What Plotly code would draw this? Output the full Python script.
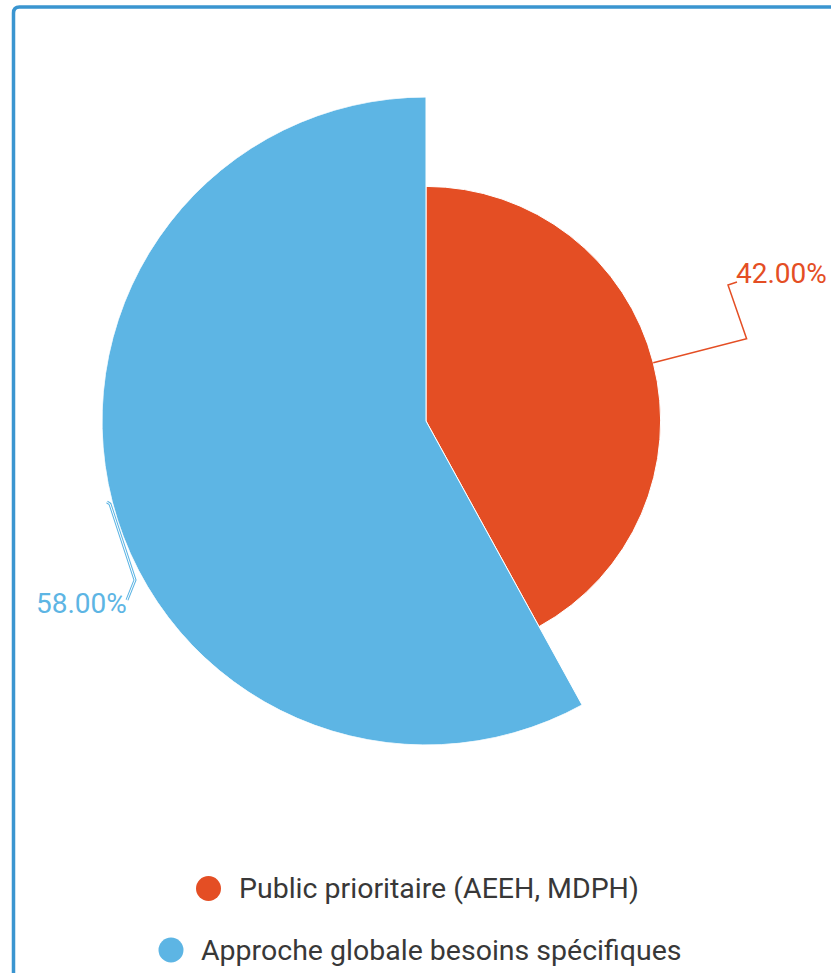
import math
import plotly.graph_objects as go

# ---- data ----
categories = ["Public prioritaire (AEEH, MDPH)", "Approche globale besoins spécifiques"]
values = [42.0, 58.0]
labels = ["42.00%", "58.00%"]
colors = ["#E44E24", "#5DB5E4"]

W, H = 831, 973
CX, CY, R = 426, 421, 324  # pixel centre / outer radius of largest slice
vmax = max(values)
total = sum(values)

def px(x):
    return x / W

def py(y):
    return 1 - y / H

# angular layout (clockwise from top)
widths = [v / total * 360 for v in values]
mids = []
acc = 0
for w in widths:
    mids.append(acc + w / 2)
    acc += w

fig = go.Figure()
for cat, v, w, m, c in zip(categories, values, widths, mids, colors):
    fig.add_trace(go.Barpolar(
        r=[v], theta=[m], width=[w], name=cat,
        marker=dict(color=c, line=dict(color="white", width=1)),
        showlegend=False, hoverinfo="name+r",
    ))

def pol(rpx, ang):
    a = math.radians(ang)
    return CX + rpx * math.sin(a), CY - rpx * math.cos(a)

def path(pts):
    s = "M " + " L ".join(f"{px(x):.5f},{py(y):.5f}" for x, y in pts)
    return s

shapes = []
# border of card
shapes.append(dict(type="path", xref="paper", yref="paper",
                   path=f"M {px(13.5)},{py(1000)} L {px(13.5)},{py(13)} Q {px(13.5)},{py(7)} {px(19.5)},{py(7)} L {px(860)},{py(7)}",
                   line=dict(color="#3A95D0", width=3.5)))

# orange leader line
r0 = values[0] / vmax * R
p1 = pol(r0, mids[0])
p2 = pol(331, mids[0])
shapes.append(dict(type="path", xref="paper", yref="paper",
                   path=path([p1, p2, (728, 285), (737, 282)]),
                   line=dict(color=colors[0], width=1.5)))
# blue leader line (hollow look)
bpts = [(107, 502), (110, 504), (135, 580), (127, 600)]
shapes.append(dict(type="path", xref="paper", yref="paper", path=path(bpts),
                   line=dict(color=colors[1], width=3)))
shapes.append(dict(type="path", xref="paper", yref="paper", path=path(bpts),
                   line=dict(color="white", width=1)))

annotations = [
    dict(x=px(734), y=py(273), xref="paper", yref="paper", text=labels[0],
         showarrow=False, xanchor="left", yanchor="middle",
         font=dict(family="Roboto", size=28, color=colors[0])),
    dict(x=px(129), y=py(603), xref="paper", yref="paper", text=labels[1],
         showarrow=False, xanchor="right", yanchor="middle",
         font=dict(family="Roboto", size=28, color=colors[1])),
]

# manual legend (centered rows)
leg_rows = [(208.5, 888.5), (171, 950)]
for (lx, ly), cat, c in zip(leg_rows, categories, colors):
    shapes.append(dict(type="circle", xref="paper", yref="paper",
                       x0=px(lx - 12.5), x1=px(lx + 12.5), y0=py(ly + 12.5), y1=py(ly - 12.5),
                       fillcolor=c, line=dict(width=0)))
    annotations.append(dict(x=px(lx + 28), y=py(ly), xref="paper", yref="paper",
                            text=cat, showarrow=False, xanchor="left", yanchor="middle",
                            font=dict(family="Roboto", size=28.5, color="#383838")))

fig.update_layout(
    width=W, height=H,
    margin=dict(l=0, r=0, t=0, b=0),
    paper_bgcolor="white",
    polar=dict(
        domain=dict(x=[px(CX - R), px(CX + R)], y=[py(CY + R), py(CY - R)]),
        bgcolor="rgba(0,0,0,0)",
        radialaxis=dict(range=[0, vmax], visible=False),
        angularaxis=dict(rotation=90, direction="clockwise", visible=False),
        bargap=0,
    ),
    shapes=shapes,
    annotations=annotations,
    showlegend=False,
)

fig.write_html("out.html", config={"displayModeBar": False})
# remove default page margin so the figure sits at the window origin
with open("out.html", encoding="utf-8") as f:
    html = f.read()
html = html.replace("<body>", '<body style="margin:0;overflow:hidden">', 1)
with open("out.html", "w", encoding="utf-8") as f:
    f.write(html)
